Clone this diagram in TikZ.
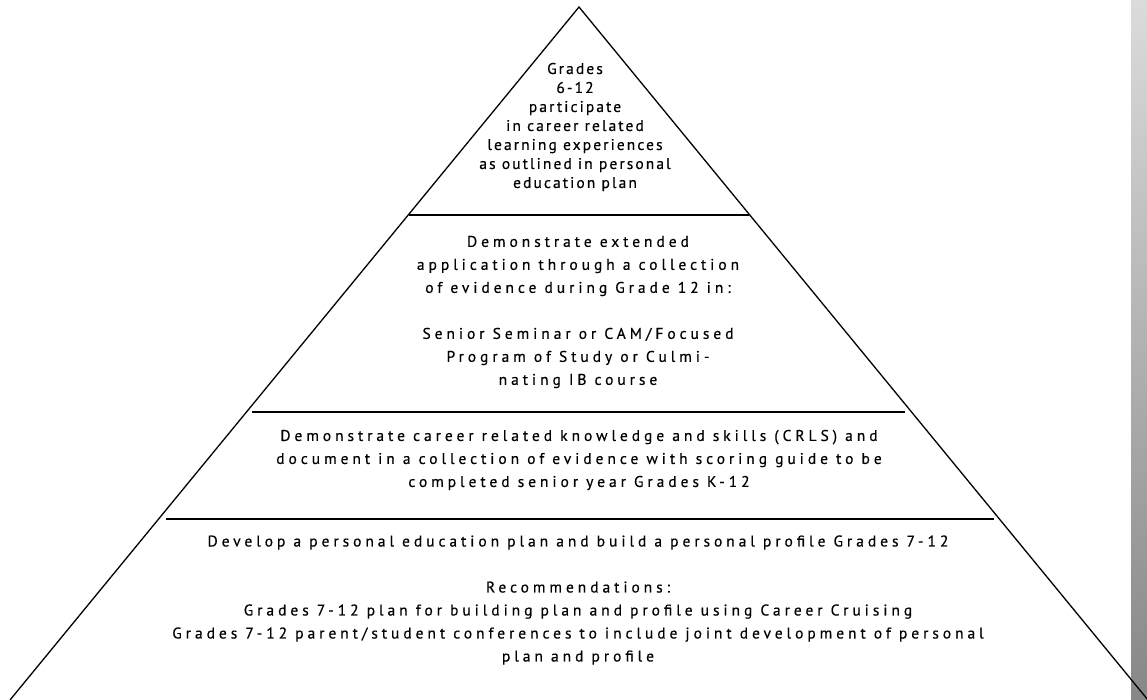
\documentclass[tikz,border=0pt]{standalone}
\usepackage{fontspec}
\newfontfamily\pyrfont[LetterSpace=25.5,FakeBold=0.4]{PT Sans}
\newfontfamily\pyrtopfont[LetterSpace=13.5,FakeBold=0.4]{PT Sans}
\begin{document}
\begin{tikzpicture}[x=1pt,y=-1pt,
  edge/.style={line width=1.3pt,black},
  sep/.style={line width=1.3pt,black},
  tier/.style={align=center,font=\pyrfont\fontsize{15.5}{23}\selectfont,inner sep=0pt},
  toptier/.style={tier,font=\pyrtopfont\fontsize{15.5}{19}\selectfont}]
\useasboundingbox (0,0) rectangle (1147,700);
\fill[white] (0,0) rectangle (1147,700);
\shade[top color=black!14,bottom color=black!47] (1131,0) rectangle (1147,700);
% pyramid outline
\coordinate (apex) at (579,7);
\coordinate (bl) at (10,700);
\coordinate (br) at (1148,700);
\draw[edge,line join=miter] (bl) -- (apex) -- (br);
% separators
\coordinate (s1l) at (409,215);  \coordinate (s1r) at (749,215);
\coordinate (s2l) at (252,412);  \coordinate (s2r) at (905,412);
\coordinate (s3l) at (166,519);  \coordinate (s3r) at (994,519);
\draw[sep] (s1l) -- (s1r);
\draw[sep] (s2l) -- (s2r);
\draw[sep] (s3l) -- (s3r);
% texts
\node[toptier] (t1) at (575,127) {Grades\\6-12\\participate\\in career related\\learning experiences\\as outlined in personal\\education plan};
\node[tier] (t2) at (578,312) {Demonstrate extended\\application through a collection\\of evidence during Grade 12 in:\\[23pt]Senior Seminar or CAM/Focused\\Program of Study or Culmi-\\nating IB course};
\node[tier] (t3) at (579,460) {Demonstrate career related knowledge and skills (CRLS) and\\document in a collection of evidence with scoring guide to be\\completed senior year Grades K-12};
\node[tier] (t4) at (578,600) {Develop a personal education plan and build a personal profile Grades 7-12\\[23pt]Recommendations:\\Grades 7-12 plan for building plan and profile using Career Cruising\\Grades 7-12 parent/student conferences to include joint development of personal\\plan and profile};
\end{tikzpicture}
\end{document}
